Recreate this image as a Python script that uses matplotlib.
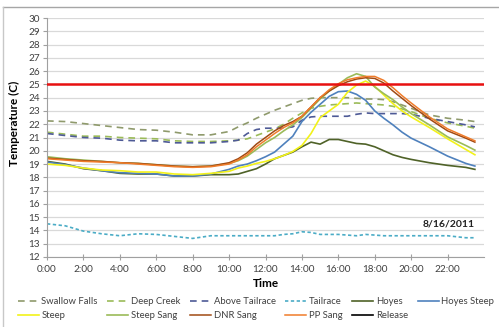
import matplotlib
matplotlib.use("Agg")
import matplotlib.pyplot as plt
from matplotlib.lines import Line2D

plt.rcParams["font.family"] = ["Lato", "DejaVu Sans"]

# time of day in hours
hours = [0, 1, 2, 3, 4, 5, 6, 7, 8, 9, 10,
         10.5, 11, 11.5, 12, 12.5, 13, 13.5, 14, 14.5, 15,
         15.5, 16, 16.5, 17, 17.5, 18, 18.5, 19, 19.5, 20,
         21, 22, 23, 23.5]

swallow_falls = [22.25, 22.2, 22.05, 21.9, 21.75, 21.6, 21.55, 21.4, 21.2, 21.2, 21.45,
                 21.8, 22.1, 22.45, 22.75, 23.05, 23.3, 23.55, 23.8, 23.95, 24.0,
                 24.0, 24.0, 24.0, 23.95, 23.9, 23.9, 23.85, 23.7, 23.45, 23.2,
                 22.7, 22.45, 22.3, 22.2]
deep_creek = [21.4, 21.25, 21.1, 21.1, 21.0, 20.95, 20.9, 20.75, 20.7, 20.7, 20.75,
              20.8, 20.9, 21.15, 21.4, 21.65, 22.0, 22.45, 22.85, 23.2, 23.35,
              23.45, 23.5, 23.55, 23.6, 23.55, 23.5, 23.45, 23.35, 23.15, 22.95,
              22.45, 22.1, 21.85, 21.7]
above_tailrace = [21.3, 21.15, 21.0, 20.95, 20.8, 20.75, 20.75, 20.6, 20.6, 20.6, 20.7,
                  20.8, 21.3, 21.6, 21.7, 21.7, 21.7, 21.8, 22.3, 22.55, 22.6,
                  22.6, 22.6, 22.6, 22.75, 22.85, 22.8, 22.8, 22.8, 22.8, 22.75,
                  22.45, 22.2, 21.95, 21.8]
tailrace = [14.5, 14.35, 13.95, 13.75, 13.6, 13.75, 13.7, 13.55, 13.4, 13.6, 13.6,
            13.6, 13.6, 13.6, 13.6, 13.6, 13.7, 13.75, 13.9, 13.85, 13.7,
            13.7, 13.7, 13.65, 13.6, 13.7, 13.65, 13.6, 13.6, 13.6, 13.6,
            13.6, 13.6, 13.45, 13.45]
hoyes = [19.2, 19.0, 18.65, 18.5, 18.3, 18.25, 18.25, 18.1, 18.1, 18.2, 18.2,
         18.25, 18.45, 18.65, 19.0, 19.4, 19.65, 19.9, 20.3, 20.65, 20.5,
         20.85, 20.85, 20.7, 20.55, 20.5, 20.3, 20.0, 19.7, 19.5, 19.35,
         19.1, 18.9, 18.75, 18.6]
hoyes_steep = [19.15, 18.95, 18.7, 18.5, 18.35, 18.3, 18.25, 18.1, 18.1, 18.25, 18.6,
               18.85, 19.0, 19.25, 19.55, 19.9, 20.5, 21.1, 22.2, 22.9, 23.5,
               24.1, 24.45, 24.5, 24.25, 23.8, 23.0, 22.45, 21.95, 21.4, 20.95,
               20.3, 19.6, 19.05, 18.85]
steep = [19.0, 18.9, 18.7, 18.55, 18.5, 18.4, 18.4, 18.25, 18.2, 18.3, 18.45,
         18.7, 18.85, 19.05, 19.2, 19.4, 19.65, 19.95, 20.4, 21.3, 22.5,
         23.0, 23.5, 24.4, 24.95, 25.25, 24.85, 24.2, 23.55, 23.0, 22.55,
         21.75, 20.9, 20.1, 19.7]
steep_sang = [19.55, 19.4, 19.3, 19.2, 19.1, 19.05, 18.95, 18.85, 18.8, 18.85, 19.05,
              19.25, 19.6, 20.1, 20.6, 21.0, 21.5, 21.95, 22.5, 23.2, 23.9,
              24.5, 25.0, 25.5, 25.8, 25.6, 24.8, 24.3, 23.85, 23.3, 22.8,
              21.95, 21.05, 20.4, 20.05]
dnr_sang = [19.45, 19.35, 19.25, 19.2, 19.1, 19.05, 18.95, 18.85, 18.8, 18.85, 19.1,
            19.4, 19.85, 20.5, 21.0, 21.5, 21.9, 22.2, 22.6, 23.3, 24.0,
            24.5, 24.9, 25.2, 25.4, 25.5, 25.45, 25.1, 24.5, 23.95, 23.4,
            22.4, 21.5, 20.95, 20.65]
pp_sang = [19.4, 19.3, 19.2, 19.15, 19.1, 19.0, 18.9, 18.8, 18.75, 18.8, 19.0,
           19.3, 19.7, 20.3, 20.8, 21.3, 21.75, 22.1, 22.6, 23.3, 24.0,
           24.6, 25.05, 25.35, 25.5, 25.6, 25.6, 25.3, 24.75, 24.15, 23.6,
           22.55, 21.65, 21.05, 20.75]
release = []  # in the legend, no line drawn in the chart

threshold = 25
tick_hours = list(range(0, 24, 2))
tick_labels = [f"{h}:00" for h in tick_hours]
y_ticks = list(range(12, 31))

series = [
    ("Swallow Falls", hours, swallow_falls, "#8f9a6c", (0, (4, 3)), 1.2),
    ("Deep Creek", hours, deep_creek, "#9bbb59", (0, (4, 3)), 1.2),
    ("Above Tailrace", hours, above_tailrace, "#4e5a96", (0, (4, 3)), 1.2),
    ("Tailrace", hours, tailrace, "#4bacc6", (0, (2, 1.5)), 1.2),
    ("Hoyes", hours, hoyes, "#4f6228", "-", 1.2),
    ("Hoyes Steep", hours, hoyes_steep, "#4f81bd", "-", 1.2),
    ("Steep", hours, steep, "#f2f21a", "-", 1.2),
    ("Steep Sang", hours, steep_sang, "#9bbb59", "-", 1.2),
    ("DNR Sang", hours, dnr_sang, "#a04a14", "-", 1.1),
    ("PP Sang", hours, pp_sang, "#f07c2a", "-", 1.1),
    ("Release", hours[:len(release)], release, "#000000", "-", 1.2),
]

fig = plt.figure(figsize=(4.99, 3.27), dpi=100)
ax = fig.add_axes([47 / 499, 1 - 257 / 327, 437 / 499, 239 / 327])

for y in y_ticks:
    ax.axhline(y, color="#d9d9d9", lw=0.9, zorder=0)

handles = {}
for name, xs, ys, color, ls, lw in series:
    (ln,) = ax.plot(xs, ys, color=color, ls=ls, lw=lw, label=name)
    handles[name] = ln

ax.axhline(threshold, color="#e81010", lw=1.8, zorder=5)

ax.set_xlim(0, 24)
ax.set_ylim(12, 30)
ax.set_yticks(y_ticks)
ax.set_xticks(tick_hours)
ax.set_xticklabels(tick_labels)
ax.tick_params(axis="both", labelsize=7.2, colors="#404040", length=3, width=0.8)
ax.tick_params(axis="x", direction="inout", length=4, color="#a0a0a0")
ax.tick_params(axis="y", color="#a0a0a0", pad=2)
for s in ("top", "right"):
    ax.spines[s].set_visible(False)
for s in ("left", "bottom"):
    ax.spines[s].set_color("#a0a0a0")
    ax.spines[s].set_linewidth(0.8)

ax.set_xlabel("Time", fontsize=8.5, fontweight="bold", labelpad=3)
ax.set_ylabel("Temperature (C)", fontsize=8.5, fontweight="bold")
ax.yaxis.set_label_coords(-0.062, 0.56)

ax.text(23.5, 14.5, "8/16/2011", fontsize=7.5, fontweight="bold",
        ha="right", va="center", color="#202020")

# legend: two rows of six, row-major order
row1 = ["Swallow Falls", "Deep Creek", "Above Tailrace", "Tailrace", "Hoyes", "Hoyes Steep"]
row2 = ["Steep", "Steep Sang", "DNR Sang", "PP Sang", "Release"]
order = []
for i in range(6):
    order.append(row1[i])
    if i < len(row2):
        order.append(row2[i])
leg = fig.legend([handles[n] for n in order], order, ncol=6,
                 loc="lower left", bbox_to_anchor=(14 / 499, 3 / 327, 484 / 499, 40 / 327),
                 mode="expand", frameon=False, fontsize=6.8, handlelength=2.2,
                 handletextpad=0.3, columnspacing=0.5, labelspacing=0.5,
                 borderaxespad=0)
for t in leg.get_texts():
    t.set_color("#404040")

# chart-area border lines
fig.add_artist(Line2D([3 / 499, 1], [1 - 7 / 327, 1 - 7 / 327], color="#a6a6a6", lw=1))
fig.add_artist(Line2D([3 / 499, 3 / 499], [0, 1 - 7 / 327], color="#c8c8c8", lw=1))

fig.savefig("out.png", dpi=100)
